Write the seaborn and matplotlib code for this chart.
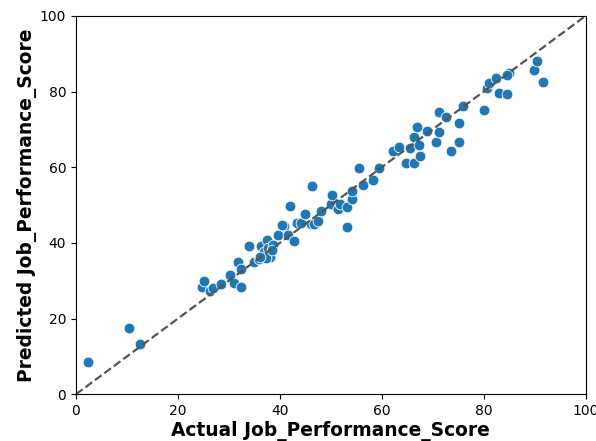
import matplotlib
matplotlib.use("Agg")
import matplotlib.pyplot as plt
import pandas as pd
import seaborn as sns

# values
actual = [2.3, 10.4, 12.6, 24.7, 25.2, 26.3, 26.8, 28.4, 30.3, 31.0, 32.4, 31.8,
          32.4, 33.9, 34.9, 35.9, 36.4, 37.4, 36.8, 38.1, 37.7, 38.7, 37.2, 38.4,
          36.2, 39.7, 40.9, 40.5, 41.7, 42.0, 42.8, 43.3, 44.1, 44.9, 46.2, 46.7,
          47.4, 48.0, 46.4, 50.0, 50.2, 51.5, 51.8, 53.1, 53.1, 54.2, 54.2, 55.6,
          56.4, 58.2, 59.5, 62.3, 63.3, 64.7, 65.5, 66.4, 67.0, 67.4, 66.3, 67.5,
          68.9, 70.6, 71.2, 71.2, 72.7, 73.6, 75.1, 75.1, 76.0, 80.0, 80.7, 81.1,
          82.5, 83.0, 84.6, 84.9, 84.5, 89.9, 90.5, 91.7]
predicted = [8.4, 17.4, 13.3, 28.3, 29.9, 27.4, 28.0, 29.1, 31.6, 29.3, 28.4, 35.0,
             33.1, 39.3, 34.9, 35.7, 39.3, 40.8, 37.7, 36.4, 38.6, 39.4, 36.0, 38.0,
             36.2, 42.1, 44.5, 44.8, 42.1, 49.7, 40.6, 45.2, 45.2, 47.6, 45.0, 45.0,
             45.9, 48.5, 55.1, 50.4, 52.6, 48.9, 50.3, 49.4, 44.3, 51.6, 53.8, 59.9,
             55.3, 56.6, 59.7, 64.3, 65.4, 61.2, 65.2, 67.9, 70.7, 66.0, 61.0, 63.0,
             69.5, 66.7, 69.2, 74.7, 73.2, 64.3, 66.7, 71.7, 76.1, 75.1, 81.0, 82.3,
             83.6, 79.5, 79.3, 84.9, 84.3, 85.6, 88.0, 82.5]

df = pd.DataFrame({"Actual": actual, "Predicted": predicted})

fig = plt.figure(figsize=(5.96, 4.41), dpi=100)
ax = fig.add_axes([0.1275, 0.106, 0.855, 0.858])

sns.scatterplot(data=df, x="Actual", y="Predicted", ax=ax, s=60,
                color="#1f77b4", edgecolor="white", linewidth=0.6)
ax.plot([0, 100], [0, 100], linestyle="--", color="#555555", linewidth=1.6)

ax.set_xlim(0, 100)
ax.set_ylim(0, 100)
ax.set_xlabel("Actual Job_Performance_Score", fontsize=13.4, fontweight="bold",
              labelpad=2)
ax.set_ylabel("Predicted Job_Performance_Score", fontsize=13.4, fontweight="bold",
              labelpad=2)

fig.savefig("out.png", dpi=100)
